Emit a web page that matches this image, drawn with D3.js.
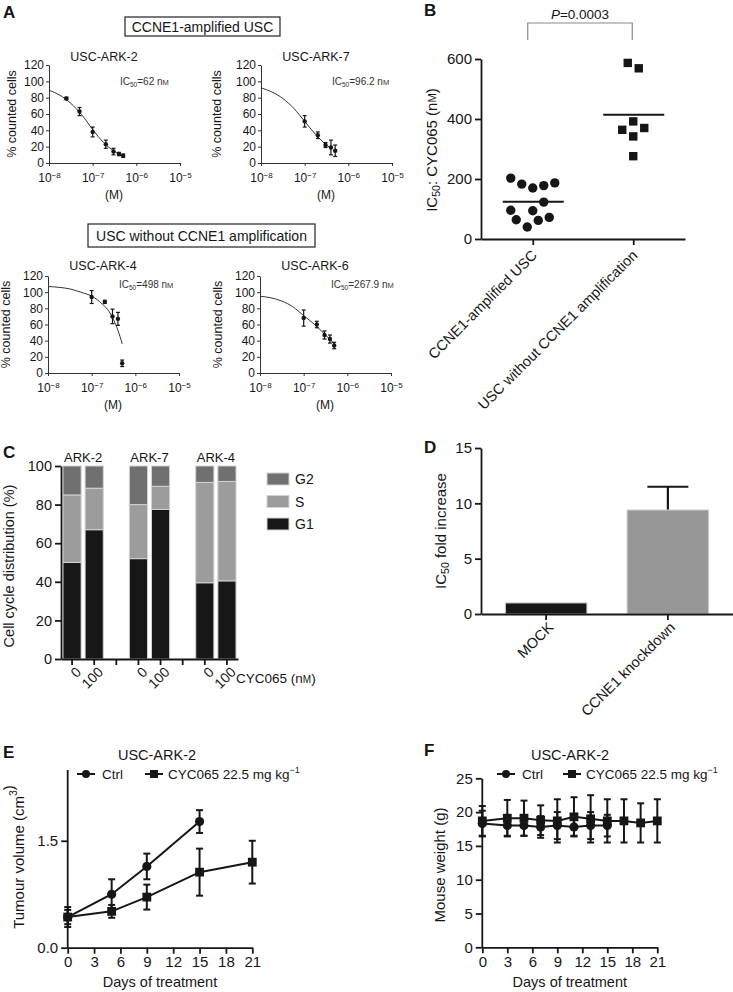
<!DOCTYPE html>
<html><head><meta charset="utf-8">
<script src="https://cdn.jsdelivr.net/npm/d3@7"></script>
<style>body{margin:0;background:#fff}svg{display:block}</style>
</head><body><svg id="c" width="733" height="992"></svg>
<script>
// ================= DATA =================
// Panel A – dose response (dose in M, % counted cells, error)
const aXTicks = [1e-8, 1e-7, 1e-6, 1e-5];
const aYTicks = [0, 20, 40, 60, 80, 100, 120];
const aTitles = ["USC-ARK-2", "USC-ARK-7", "USC-ARK-4", "USC-ARK-6"];
const aIC50 = ["62", "96.2", "498", "267.9"];
const ark2Dose = [2.5e-8, 5e-8, 1e-7, 2e-7, 3e-7, 4e-7, 5e-7];
const ark2Pct = [79, 63, 38, 23, 14, 11, 9];
const ark2Err = [1.5, 5, 6, 5, 4, 2, 2];
const ark7Dose = [1e-7, 2e-7, 3e-7, 4e-7, 5e-7];
const ark7Pct = [51, 34, 22, 19, 15];
const ark7Err = [7, 4, 3, 9, 7];
const ark4Dose = [1e-7, 2e-7, 3e-7, 4e-7, 5e-7];
const ark4Pct = [94, 88, 70, 67, 12];
const ark4Err = [8, 2, 9, 8, 4];
const ark6Dose = [1e-7, 2e-7, 3e-7, 4e-7, 5e-7];
const ark6Pct = [68, 60, 47, 42, 34];
const ark6Err = [10, 4, 5, 5, 4];
// fitted curves (log10 M, %)
const ark2CurveLog = [-8, -7.75, -7.5, -7.25, -7, -6.75, -6.5, -6.3];
const ark2CurvePct = [89, 83, 73, 59, 41, 25, 14, 8];
const ark7CurveLog = [-8, -7.75, -7.5, -7.25, -7, -6.75, -6.5, -6.4];
const ark7CurvePct = [92, 87, 79, 67, 51, 35, 22, 18];
const ark4CurveLog = [-8, -7.75, -7.5, -7.25, -7, -6.75, -6.6, -6.5, -6.4, -6.3];
const ark4CurvePct = [107, 106, 104, 100, 95, 85, 76, 66, 53, 36];
const ark6CurveLog = [-8, -7.75, -7.5, -7.25, -7, -6.75, -6.5, -6.3];
const ark6CurvePct = [95, 93, 89, 82, 71, 60, 47, 36];

// Panel B – IC50 scatter
const bCategories = ["CCNE1-amplified USC", "USC without CCNE1 amplification"];
const bAmplified = [203, 183, 170, 178, 187, 123, 96, 94, 64, 62, 72, 40];
const bAmplifiedSlot = [-2, -1, 0, 1, 2, 1, -2, 0, -1.5, 0.5, 1.5, -0.5];
const bNonAmp = [587, 569, 392, 364, 370, 342, 276];
const bNonAmpSlot = [-0.5, 0.5, 0, -1, 1, 0, 0];
const bMeans = [124, 414];
const bYTicks = [0, 200, 400, 600];
const bPValue = "0.0003";

// Panel C – cell cycle distribution
const cGroups = ["ARK-2", "ARK-7", "ARK-4"];
const cDoses = ["0", "100"];
const cG1 = [50, 67, 52, 77.5, 39.5, 40.5];
const cS = [35, 21.5, 28, 12, 52, 51.5];
const cG2 = [15, 11.5, 20, 10.5, 8.5, 8];
const cPhases = ["G2", "S", "G1"];
const cYTicks = [0, 20, 40, 60, 80, 100];

// Panel D – IC50 fold increase
const dCategories = ["MOCK", "CCNE1 knockdown"];
const dValues = [1.0, 9.4];
const dErr = [0, 2.1];
const dYTicks = [0, 5, 10, 15];

// Panel E – tumour volume
const eCtrlDays = [0, 5, 9, 15];
const eCtrl = [0.43, 0.75, 1.14, 1.77];
const eCtrlErr = [0.10, 0.21, 0.18, 0.16];
const eCycDays = [0, 5, 9, 15, 21];
const eCyc = [0.43, 0.51, 0.71, 1.06, 1.20];
const eCycErr = [0.14, 0.09, 0.175, 0.33, 0.30];
const eYTicks = [0, 1.5];
const dayTicks = [0, 3, 6, 9, 12, 15, 18, 21];

// Panel F – mouse weight
const fCtrlDays = [0, 3, 5, 7, 9, 11, 13, 15];
const fCtrl = [18.3, 18.0, 18.0, 17.8, 18.0, 17.8, 18.0, 18.0];
const fCtrlErr = [1.9, 1.5, 1.5, 1.6, 2.0, 1.3, 2.0, 1.6];
const fCycDays = [0, 3, 5, 7, 9, 11, 13, 15, 17, 19, 21];
const fCyc = [18.7, 19.1, 19.1, 18.8, 18.7, 19.3, 19.0, 18.7, 18.7, 18.4, 18.7];
const fCycErr = [2.2, 2.7, 2.6, 2.2, 3.2, 2.9, 3.5, 3.2, 3.2, 2.9, 3.2];
const fYTicks = [0, 5, 10, 15, 20, 25];

// ================= DRAWING =================
const FONT = "'Liberation Sans', Arial, Helvetica, sans-serif";
const INK = "#161616";
const svg = d3.select("#c").attr("font-family", FONT).attr("fill", INK);

function styleAxis(g, fs, sw, col) {
  col = col || INK;
  g.selectAll("path.domain").attr("stroke", col).attr("stroke-width", sw);
  g.selectAll(".tick line").attr("stroke", col).attr("stroke-width", sw);
  g.selectAll(".tick text").attr("font-size", fs).attr("fill", INK).attr("font-family", FONT);
}
function panelLetter(t, x, y) {
  svg.append("text").attr("x", x).attr("y", y).attr("font-size", 17).attr("font-weight", "bold").text(t);
}
function vLabel(x, y, fs, parts) {
  const t = svg.append("text").attr("transform", `translate(${x},${y}) rotate(-90)`)
    .attr("text-anchor", "middle").attr("font-size", fs).attr("dominant-baseline", "middle");
  parts.forEach(p => {
    const s = t.append("tspan").text(p.t);
    if (p.sub) s.attr("font-size", fs * 0.7).attr("dy", fs * 0.25);
    if (p.back) s.attr("dy", -fs * 0.25);
    if (p.sup) s.attr("font-size", fs * 0.7).attr("dy", -fs * 0.4);
    if (p.sc) s.attr("font-size", fs * 0.75);
  });
  return t;
}

// ---------- Panel A ----------
panelLetter("A", 3, 18);
const boxes = [
  {text: "CCNE1-amplified USC", x: 125, y: 17, w: 155, h: 19},
  {text: "USC without CCNE1 amplification", x: 88, y: 224, w: 227, h: 23}
];
boxes.forEach(b => {
  svg.append("rect").attr("x", b.x).attr("y", b.y).attr("width", b.w).attr("height", b.h)
    .attr("fill", "none").attr("stroke", "#222").attr("stroke-width", 1.2);
  svg.append("text").attr("x", b.x + b.w / 2).attr("y", b.y + b.h / 2 + 5)
    .attr("text-anchor", "middle").attr("font-size", 14).text(b.text);
});

const plotsA = [
  {dose: ark2Dose, pct: ark2Pct, err: ark2Err, cl: ark2CurveLog, cp: ark2CurvePct, left: 49, top: 65, bottom: 163, titleY: 61, icV: 100, labX: 13},
  {dose: ark7Dose, pct: ark7Pct, err: ark7Err, cl: ark7CurveLog, cp: ark7CurvePct, left: 261, top: 65, bottom: 163, titleY: 61, icV: 100, labX: 218},
  {dose: ark4Dose, pct: ark4Pct, err: ark4Err, cl: ark4CurveLog, cp: ark4CurvePct, left: 48, top: 276, bottom: 373, titleY: 270, icV: 110, labX: 7},
  {dose: ark6Dose, pct: ark6Pct, err: ark6Err, cl: ark6CurveLog, cp: ark6CurvePct, left: 260, top: 276, bottom: 373, titleY: 270, icV: 110, labX: 219}
];
plotsA.forEach((p, i) => {
  const x = d3.scaleLog().domain([1e-8, 1e-5]).range([p.left, p.left + 131]);
  const y = d3.scaleLinear().domain([0, 120]).range([p.bottom, p.top]);
  const g = svg.append("g");
  const ax = g.append("g").attr("transform", `translate(0,${p.bottom})`)
    .call(d3.axisBottom(x).tickValues(aXTicks).tickSize(3).tickSizeOuter(0).tickPadding(7));
  styleAxis(ax, 12, 1, "#333");
  ax.selectAll(".tick text").each(function (d) {
    const e = Math.round(Math.log10(d));
    const t = d3.select(this); t.text("10");
    t.append("tspan").attr("dy", "-0.45em").attr("font-size", 8).text("\u2212" + (-e));
  });
  const ay = g.append("g").attr("transform", `translate(${p.left},0)`)
    .call(d3.axisLeft(y).tickValues(aYTicks).tickSize(3).tickSizeOuter(0).tickPadding(2));
  styleAxis(ay, 12, 1, "#333");
  // fitted curve
  g.append("path").datum(d3.zip(p.cl, p.cp))
    .attr("d", d3.line().x(d => x(Math.pow(10, d[0]))).y(d => y(d[1])).curve(d3.curveMonotoneX))
    .attr("fill", "none").attr("stroke", "#333").attr("stroke-width", 1);
  // error bars + points
  p.dose.forEach((dv, j) => {
    const cx = x(dv), y1 = y(p.pct[j] + p.err[j]), y2 = y(p.pct[j] - p.err[j]);
    g.append("line").attr("x1", cx).attr("x2", cx).attr("y1", y1).attr("y2", y2).attr("stroke", INK).attr("stroke-width", 1.2);
    [y1, y2].forEach(yy => g.append("line").attr("x1", cx - 2).attr("x2", cx + 2).attr("y1", yy).attr("y2", yy).attr("stroke", INK).attr("stroke-width", 1.2));
    g.append("circle").attr("cx", cx).attr("cy", y(p.pct[j])).attr("r", 2.2).attr("fill", INK);
  });
  g.append("text").attr("x", p.left + 55).attr("y", p.titleY).attr("text-anchor", "middle").attr("font-size", 12.5).text(aTitles[i]);
  const t = g.append("text").attr("x", p.left + 71).attr("y", y(p.icV) + 3.5).attr("font-size", 10).attr("fill", "#333");
  t.append("tspan").text("IC");
  t.append("tspan").attr("font-size", 6.5).attr("dy", 2).text("50");
  t.append("tspan").attr("dy", -2).text("=" + aIC50[i] + " n");
  t.append("tspan").attr("font-size", 7.5).text("M");
  g.append("text").attr("x", p.left + 65).attr("y", p.bottom + 36).attr("text-anchor", "middle").attr("font-size", 12).text("(M)");
  vLabel(p.labX, (p.top + p.bottom) / 2, 12.5, [{t: "% counted cells"}]);
});

// ---------- Panel B ----------
panelLetter("B", 424, 16);
{
  const y = d3.scaleLinear().domain([0, 600]).range([239, 59]);
  const x = d3.scalePoint().domain(bCategories).range([481, 685]).padding(0.515);
  const ay = svg.append("g").attr("transform", "translate(481,0)")
    .call(d3.axisLeft(y).tickValues(bYTicks).tickSize(6).tickSizeOuter(0).tickPadding(3));
  styleAxis(ay, 15, 1.8);
  const ax = svg.append("g").attr("transform", "translate(0,239)")
    .call(d3.axisBottom(x).tickSize(6).tickSizeOuter(0).tickFormat(""));
  styleAxis(ax, 15, 1.8);
  bCategories.forEach(c => {
    svg.append("text").attr("transform", `translate(${x(c) - 2},${249}) rotate(-45)`)
      .attr("text-anchor", "end").attr("font-size", 14.5).attr("dy", "0.7em").text(c);
  });
  const unit = 11;
  bAmplified.forEach((v, i) => svg.append("circle").attr("cx", x(bCategories[0]) + bAmplifiedSlot[i] * unit)
    .attr("cy", y(v)).attr("r", 4.7).attr("fill", INK));
  bNonAmp.forEach((v, i) => svg.append("rect").attr("x", x(bCategories[1]) + bNonAmpSlot[i] * unit - 4.2)
    .attr("y", y(v) - 4.2).attr("width", 8.4).attr("height", 8.4).attr("fill", INK));
  bMeans.forEach((m, i) => svg.append("line").attr("x1", x(bCategories[i]) - 30).attr("x2", x(bCategories[i]) + 31)
    .attr("y1", y(m)).attr("y2", y(m)).attr("stroke", INK).attr("stroke-width", 2));
  // bracket
  const bx1 = x(bCategories[0]) - 5, bx2 = x(bCategories[1]) - 1;
  svg.append("path").attr("d", `M${bx1},40V23H${bx2}V40`).attr("fill", "none").attr("stroke", "#8a8a8a").attr("stroke-width", 1.2);
  const pt = svg.append("text").attr("x", (bx1 + bx2) / 2).attr("y", 19).attr("text-anchor", "middle").attr("font-size", 13.5);
  pt.append("tspan").attr("font-style", "italic").text("P");
  pt.append("tspan").text("=" + bPValue);
  vLabel(433, 150, 15, [{t: "IC"}, {t: "50", sub: true}, {t: ": CYC065 (n", back: true}, {t: "M", sc: true}, {t: ")"}]);
}

// ---------- Panel C ----------
panelLetter("C", 3, 458);
{
  const slots = [];
  cGroups.forEach((g, gi) => {
    cDoses.forEach(d => slots.push(g + "|" + d));
    if (gi < cGroups.length - 1) slots.push("gap" + gi);
  });
  const rows = [];
  let k = 0;
  cGroups.forEach(g => cDoses.forEach(d => { rows.push({key: g + "|" + d, G1: cG1[k], S: cS[k], G2: cG2[k]}); k++; }));
  const x = d3.scaleBand().domain(slots).range([61, 238]).paddingInner(0.18).paddingOuter(0.09);
  const y = d3.scaleLinear().domain([0, 100]).range([659, 466]);
  const color = d3.scaleOrdinal().domain(cPhases).range(["#707070", "#9c9c9c", "#171717"]);
  const stack = d3.stack().keys(["G1", "S", "G2"])(rows);
  stack.forEach(layer => {
    svg.append("g").selectAll("rect").data(layer).join("rect")
      .attr("x", d => x(d.data.key)).attr("width", x.bandwidth())
      .attr("y", d => y(d[1])).attr("height", d => y(d[0]) - y(d[1]))
      .attr("fill", color(layer.key)).attr("stroke", "#d2d2d2").attr("stroke-width", 1);
  });
  const ay = svg.append("g").attr("transform", "translate(61,0)")
    .call(d3.axisLeft(y).tickValues(cYTicks).tickSize(6).tickSizeOuter(0).tickPadding(3));
  styleAxis(ay, 14.5, 1.8);
  const ax = svg.append("g").attr("transform", "translate(0,659)")
    .call(d3.axisBottom(x).tickSize(6).tickSizeOuter(0).tickFormat(""));
  styleAxis(ax, 14, 1.8);
  rows.forEach(r => {
    const dose = r.key.split("|")[1];
    svg.append("text").attr("transform", `translate(${x(r.key) + x.bandwidth() / 2 + 3},${666}) rotate(-45)`)
      .attr("text-anchor", "end").attr("font-size", 14).attr("dy", "0.7em").text(dose);
  });
  cGroups.forEach(g => {
    const cx = (x(g + "|0") + x(g + "|100") + x.bandwidth()) / 2;
    svg.append("text").attr("x", cx).attr("y", 462).attr("text-anchor", "middle").attr("font-size", 13).text(g);
  });
  const ct = svg.append("text").attr("x", 236).attr("y", 683).attr("font-size", 13.5);
  ct.append("tspan").text("CYC065 (n");
  ct.append("tspan").attr("font-size", 10).text("M");
  ct.append("tspan").text(")");
  cPhases.forEach((ph, i) => {
    const ly = 473 + i * 22.5;
    svg.append("rect").attr("x", 267).attr("y", ly).attr("width", 22).attr("height", 12)
      .attr("fill", color(ph)).attr("stroke", "#d2d2d2");
    svg.append("text").attr("x", 295).attr("y", ly + 11).attr("font-size", 14).text(ph);
  });
  vLabel(10, 566, 14.5, [{t: "Cell cycle distribution (%)"}]);
}

// ---------- Panel D ----------
panelLetter("D", 424, 453);
{
  const x = d3.scaleBand().domain(dCategories).range([481, 733]).paddingInner(0.33).paddingOuter(0.2);
  const y = d3.scaleLinear().domain([0, 15]).range([614, 448]);
  const fills = ["#171717", "#979797"];
  dCategories.forEach((c, i) => {
    const cx = x(c) + x.bandwidth() / 2;
    if (dErr[i] > 0) {
      svg.append("line").attr("x1", cx).attr("x2", cx).attr("y1", y(dValues[i])).attr("y2", y(dValues[i] + dErr[i])).attr("stroke", INK).attr("stroke-width", 2.2);
      svg.append("line").attr("x1", cx - 20.5).attr("x2", cx + 20.5).attr("y1", y(dValues[i] + dErr[i])).attr("y2", y(dValues[i] + dErr[i])).attr("stroke", INK).attr("stroke-width", 2.2);
    }
    svg.append("rect").attr("x", x(c)).attr("width", x.bandwidth()).attr("y", y(dValues[i]))
      .attr("height", y(0) - y(dValues[i])).attr("fill", fills[i]).attr("stroke", "#d0d0d0").attr("stroke-width", 1);
    svg.append("text").attr("transform", `translate(${cx + 1},${621}) rotate(-45)`)
      .attr("text-anchor", "end").attr("font-size", 14.5).attr("dy", "0.7em").text(c);
  });
  const ay = svg.append("g").attr("transform", "translate(481,0)")
    .call(d3.axisLeft(y).tickValues(dYTicks).tickSize(6).tickSizeOuter(0).tickPadding(3));
  styleAxis(ay, 15, 1.8);
  const ax = svg.append("g").attr("transform", "translate(0,614)")
    .call(d3.axisBottom(x).tickSize(6).tickSizeOuter(0).tickFormat(""));
  styleAxis(ax, 15, 1.8);
  vLabel(442, 531, 15, [{t: "IC"}, {t: "50", sub: true}, {t: " fold increase", back: true}]);
}

// ---------- Panels E & F ----------
function timePanel(o) {
  const x = d3.scaleLinear().domain([0, 21]).range([o.x0, o.x1]);
  const y = d3.scaleLinear().domain([0, o.yMax]).range([o.y0, o.y1]);
  const ay = svg.append("g").attr("transform", `translate(${o.x0 - 0.5},0)`)
    .call(d3.axisLeft(y).tickValues(o.yTicks).tickSize(6).tickSizeOuter(0).tickPadding(3).tickFormat(o.fmt));
  styleAxis(ay, 15, 1.8);
  const ax = svg.append("g").attr("transform", `translate(0,${o.y0})`)
    .call(d3.axisBottom(x).tickValues(dayTicks).tickSize(6).tickSizeOuter(0).tickPadding(3));
  styleAxis(ax, 15, 1.8);
  const series = [
    {days: o.ctrlDays, v: o.ctrl, e: o.ctrlErr, shape: "circle"},
    {days: o.cycDays, v: o.cyc, e: o.cycErr, shape: "square"}
  ];
  const line = d3.line().x(d => x(d[0])).y(d => y(d[1]));
  series.forEach(s => {
    svg.append("path").datum(d3.zip(s.days, s.v)).attr("d", line).attr("fill", "none").attr("stroke", INK).attr("stroke-width", 2);
  });
  series.forEach(s => {
    s.days.forEach((d, i) => {
      const cx = x(d), ya = y(s.v[i] + s.e[i]), yb = y(s.v[i] - s.e[i]);
      svg.append("line").attr("x1", cx).attr("x2", cx).attr("y1", ya).attr("y2", yb).attr("stroke", INK).attr("stroke-width", 2);
      [ya, yb].forEach(yy => svg.append("line").attr("x1", cx - 3.5).attr("x2", cx + 3.5).attr("y1", yy).attr("y2", yy).attr("stroke", INK).attr("stroke-width", 2));
      if (s.shape === "circle") svg.append("circle").attr("cx", cx).attr("cy", y(s.v[i])).attr("r", 4.6).attr("fill", INK);
      else svg.append("rect").attr("x", cx - 4.4).attr("y", y(s.v[i]) - 4.4).attr("width", 8.8).attr("height", 8.8).attr("fill", INK);
    });
  });
  svg.append("text").attr("x", o.titleX).attr("y", 760).attr("text-anchor", "middle").attr("font-size", 14.5).text("USC-ARK-2");
  // legend
  const ly = 774;
  svg.append("line").attr("x1", o.lg[0]).attr("x2", o.lg[0] + 18).attr("y1", ly).attr("y2", ly).attr("stroke", INK).attr("stroke-width", 2);
  svg.append("circle").attr("cx", o.lg[0] + 9).attr("cy", ly).attr("r", 4).attr("fill", INK);
  svg.append("text").attr("x", o.lg[0] + 25).attr("y", ly + 5).attr("font-size", 13.5).text("Ctrl");
  svg.append("line").attr("x1", o.lg[1]).attr("x2", o.lg[1] + 18).attr("y1", ly).attr("y2", ly).attr("stroke", INK).attr("stroke-width", 2);
  svg.append("rect").attr("x", o.lg[1] + 5).attr("y", ly - 4).attr("width", 8).attr("height", 8).attr("fill", INK);
  const lt = svg.append("text").attr("x", o.lg[1] + 23).attr("y", ly + 5).attr("font-size", 13.5);
  lt.append("tspan").text("CYC065 22.5 mg kg");
  lt.append("tspan").attr("font-size", 9).attr("dy", -6).text("\u22121");
  svg.append("text").attr("x", (o.x0 + o.x1) / 2).attr("y", 987).attr("text-anchor", "middle").attr("font-size", 14.5).text("Days of treatment");
}
panelLetter("E", 3, 758);
timePanel({x0: 67.7, x1: 252.3, y0: 947.7, y1: 769.5, yMax: 2.5, yTicks: eYTicks, fmt: d3.format(".1f"),
  ctrlDays: eCtrlDays, ctrl: eCtrl, ctrlErr: eCtrlErr, cycDays: eCycDays, cyc: eCyc, cycErr: eCycErr,
  titleX: 157, lg: [77, 145]});
vLabel(20, 857, 15, [{t: "Tumour volume (cm"}, {t: "3", sup: true}, {t: ")", back: true}]);
panelLetter("F", 424, 756);
timePanel({x0: 482.3, x1: 657.3, y0: 947.3, y1: 778.3, yMax: 25, yTicks: fYTicks, fmt: d3.format("d"),
  ctrlDays: fCtrlDays, ctrl: fCtrl, ctrlErr: fCtrlErr, cycDays: fCycDays, cyc: fCyc, cycErr: fCycErr,
  titleX: 570, lg: [497, 563]});
vLabel(441, 865, 15, [{t: "Mouse weight (g)"}]);
</script>
</body></html>
